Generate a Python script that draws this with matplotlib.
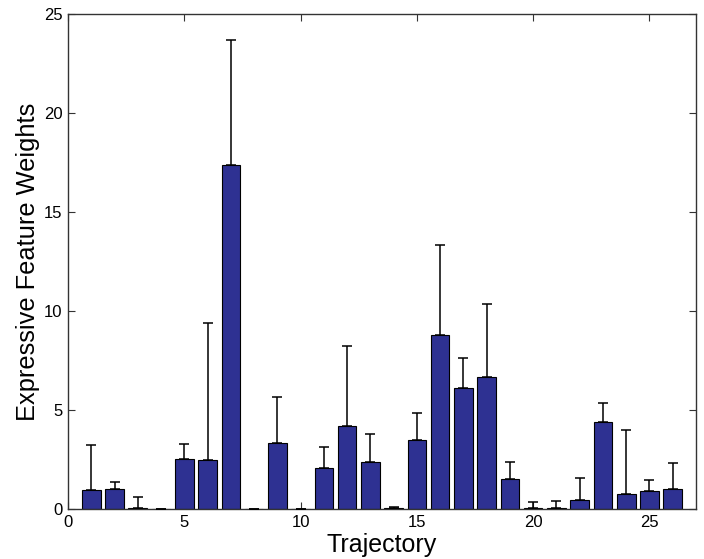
import matplotlib
matplotlib.use("Agg")
import matplotlib.pyplot as plt
import numpy as np

# bar heights per trajectory, and upper end of the error bar
trajectory = np.arange(1, 27)
weights = [0.99, 1.02, 0.09, 0.02, 2.55, 2.48, 17.40, 0.02, 3.37, 0.02,
           2.11, 4.23, 2.40, 0.09, 3.53, 8.81, 6.12, 6.71, 1.54, 0.06,
           0.06, 0.46, 4.42, 0.80, 0.95, 1.02]
err_top = [3.27, 1.40, 0.65, 0.03, 3.32, 9.43, 23.71, 0.03, 5.68, 0.03,
           3.14, 8.24, 3.80, 0.11, 4.86, 13.34, 7.67, 10.38, 2.38, 0.36,
           0.41, 1.58, 5.36, 4.03, 1.47, 2.36]

plt.rcParams['font.family'] = ['Liberation Sans', 'DejaVu Sans']

fig = plt.figure(figsize=(7.04, 5.59), dpi=100)
ax = fig.add_axes([0.0966, 0.0886, 0.892, 0.886])

upper = np.array(err_top) - np.array(weights)
ax.bar(trajectory, weights, width=0.8, color='#2e3192', edgecolor='black',
       linewidth=0.8, zorder=2)
ax.errorbar(trajectory, weights, yerr=[np.zeros(len(upper)), upper],
            fmt='none', ecolor='black', elinewidth=1.1, capsize=3.3,
            capthick=1.1, zorder=3)

ax.set_xlim(0, 27)
ax.set_ylim(0, 25)
ax.set_xticks([0, 5, 10, 15, 20, 25])
ax.set_yticks([0, 5, 10, 15, 20, 25])
ax.tick_params(direction='in', top=True, right=True, length=5,
               labelsize=12, color='#333333', pad=4)
for s in ax.spines.values():
    s.set_color('#333333')
    s.set_linewidth(1.0)

ax.set_xlabel('Trajectory', fontsize=18, labelpad=2)
ax.set_ylabel('Expressive Feature Weights', fontsize=18.3, labelpad=3)

fig.savefig('out.png', dpi=100)
